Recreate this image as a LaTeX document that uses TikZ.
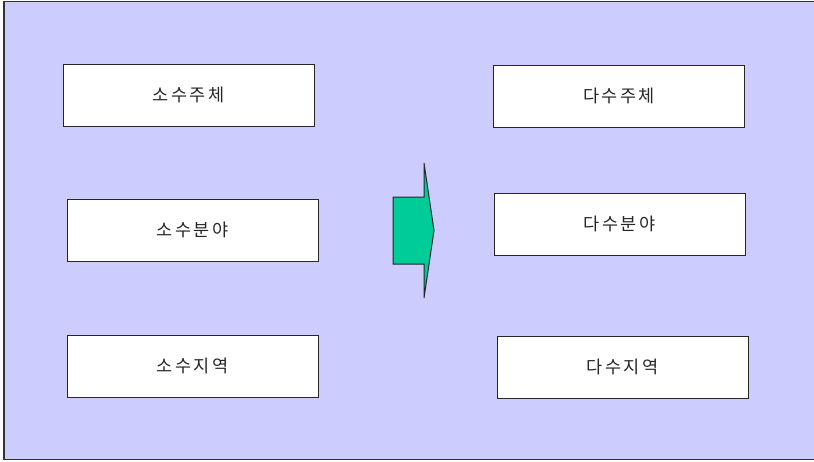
\documentclass[tikz,border=0pt]{standalone}
\usepackage{fontspec}
\newfontfamily\kr{Noto Sans CJK KR}
\definecolor{bgc}{HTML}{CCCCFF}
\definecolor{arrc}{HTML}{00CC99}
\newcommand{\ksp}{\kern2.5pt}
\begin{document}
\begin{tikzpicture}[x=1pt,y=-1pt,
  box/.style={draw=black!85,line width=1pt,fill=white,minimum width=251pt,minimum height=62pt,inner sep=0pt,font=\kr\fontsize{17.5}{20}\selectfont,text=black!85}]
\useasboundingbox (0,0) rectangle (814,461);
\draw[fill=bgc,draw=black!80,line width=1.5pt] (4,1.5) rectangle (820,459.5);
\node[box] (a1) at (188.5,95) {소\ksp 수\ksp 주\ksp 체};
\node[box] (a2) at (192.5,230) {소\ksp 수\ksp 분\ksp 야};
\node[box] (a3) at (192.5,366) {소\ksp 수\ksp 지\ksp 역};
\node[box] (b1) at (619,96) {다\ksp 수\ksp 주\ksp 체};
\node[box] (b2) at (619.5,224) {다\ksp 수\ksp 분\ksp 야};
\node[box] (b3) at (622.5,367) {다\ksp 수\ksp 지\ksp 역};
\draw[fill=arrc,draw=black!85,line width=1pt] (393,197) -- (424,197) -- (424,163) -- (434,230.5) -- (424,298) -- (424,264) -- (393,264) -- cycle;
\end{tikzpicture}
\end{document}
